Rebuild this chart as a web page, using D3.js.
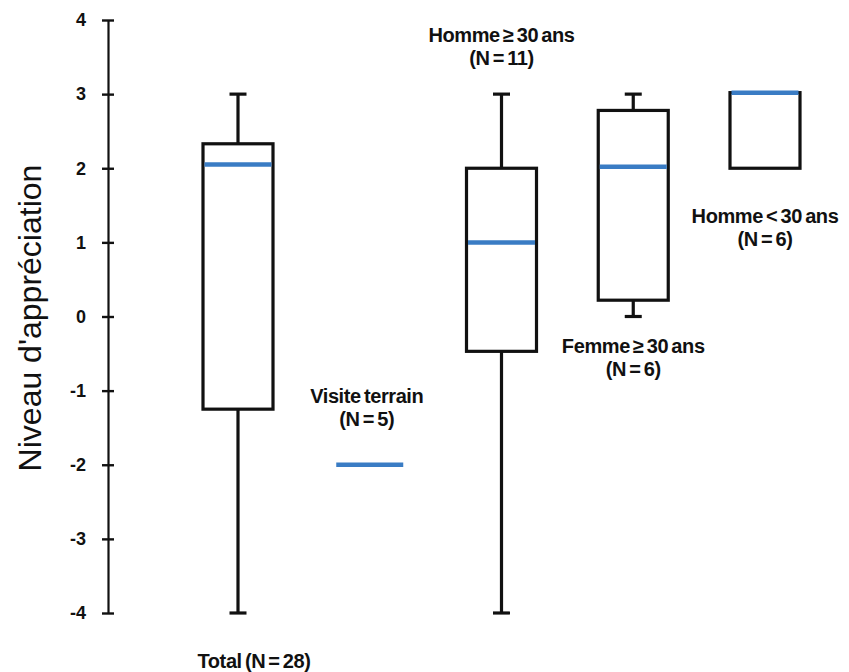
<!DOCTYPE html>
<html><head><meta charset="utf-8">
<script src="https://cdn.jsdelivr.net/npm/d3@7"></script>
<style>body{margin:0;background:#fff}svg{display:block}</style>
</head><body>
<script>
const categories = ["Total", "Visite terrain", "Homme ≥ 30 ans", "Femme ≥ 30 ans", "Homme < 30 ans"];
const whiskerLow  = [-4,   -2,  -4,    0,    2];
const q1          = [-1.25, -2, -0.47, 0.22, 2];
const median      = [2.05, -2,  1.0,   2.02, 3.02];
const q3          = [2.33, -2,  2.0,   2.78, 3.02];
const whiskerHigh = [3,    -2,  3,     3,    3];
const labelLine1  = ["Total (N = 28)", "Visite terrain", "Homme ≥ 30 ans", "Femme ≥ 30 ans", "Homme <  30 ans"];
const labelLine2  = ["", "(N = 5)", "(N = 11)", "(N = 6)", "(N = 6)"];
const yTicks = [-4, -3, -2, -1, 0, 1, 2, 3, 4];

const W = 849, H = 672;
const FONT = "Liberation Sans, Arial, sans-serif";
const svg = d3.select("body").append("svg").attr("width", W).attr("height", H);
const y = d3.scaleLinear().domain([-4, 4]).range([613, 20]);
const x = d3.scalePoint().domain(categories).range([238, 765]);
const bw = 70;

// axis
const ax = svg.append("g").attr("transform", "translate(108,0)")
  .call(d3.axisLeft(y).tickValues(yTicks).tickSize(0).tickPadding(22).tickFormat(d => String(d)));
ax.select(".domain").attr("stroke", "#111").attr("stroke-width", 2.2);
ax.selectAll(".tick text").attr("font-family", FONT)
  .attr("font-weight", "bold").attr("font-size", 18).attr("fill", "#111");
ax.selectAll(".tick").append("line").attr("x1", -6).attr("x2", 6).attr("stroke", "#111").attr("stroke-width", 2.4);

svg.append("text").attr("transform", "translate(41,318) rotate(-90)")
  .attr("text-anchor", "middle").attr("font-family", FONT)
  .attr("font-size", 32).attr("fill", "#111").text("Niveau d'appréciation");

const g = svg.append("g");
categories.forEach((c, i) => {
  const cx = x(c);
  const gg = g.append("g");
  const sw = 3.2;
  if (q3[i] !== q1[i]) {
    if (whiskerHigh[i] > q3[i]) {
      gg.append("line").attr("x1", cx).attr("x2", cx).attr("y1", y(q3[i])).attr("y2", y(whiskerHigh[i])).attr("stroke", "#111").attr("stroke-width", sw);
      gg.append("line").attr("x1", cx - 8.5).attr("x2", cx + 8.5).attr("y1", y(whiskerHigh[i])).attr("y2", y(whiskerHigh[i])).attr("stroke", "#111").attr("stroke-width", sw);
    }
    if (whiskerLow[i] < q1[i]) {
      gg.append("line").attr("x1", cx).attr("x2", cx).attr("y1", y(q1[i])).attr("y2", y(whiskerLow[i])).attr("stroke", "#111").attr("stroke-width", sw);
      gg.append("line").attr("x1", cx - 8.5).attr("x2", cx + 8.5).attr("y1", y(whiskerLow[i])).attr("y2", y(whiskerLow[i])).attr("stroke", "#111").attr("stroke-width", sw);
    }
    gg.append("rect").attr("x", cx - bw / 2).attr("y", y(q3[i])).attr("width", bw).attr("height", y(q1[i]) - y(q3[i]))
      .attr("fill", "#fff").attr("stroke", "#111").attr("stroke-width", sw);
  }
  gg.append("line").attr("x1", cx - bw / 2 + 1.5).attr("x2", cx + bw / 2 - 1.5).attr("y1", y(median[i])).attr("y2", y(median[i]))
    .attr("stroke", "#3a7cc4").attr("stroke-width", 4.5);
});

// labels (baselines)
const labelPos = [
  {dx: 16, b1: 668}, {dx: -3, b1: 403}, {dx: 0, b1: 42}, {dx: 0, b1: 353}, {dx: 0, b1: 223}
];
categories.forEach((c, i) => {
  const t = svg.append("text").attr("text-anchor", "middle")
    .attr("font-family", FONT).attr("font-weight", "bold")
    .attr("font-size", 20).attr("letter-spacing", -0.4).attr("word-spacing", -2).attr("fill", "#111");
  const lx = x(c) + labelPos[i].dx;
  t.append("tspan").attr("x", lx).attr("y", labelPos[i].b1).text(labelLine1[i]);
  if (labelLine2[i]) t.append("tspan").attr("x", lx).attr("y", labelPos[i].b1 + 23).text(labelLine2[i]);
});
</script>
</body></html>
